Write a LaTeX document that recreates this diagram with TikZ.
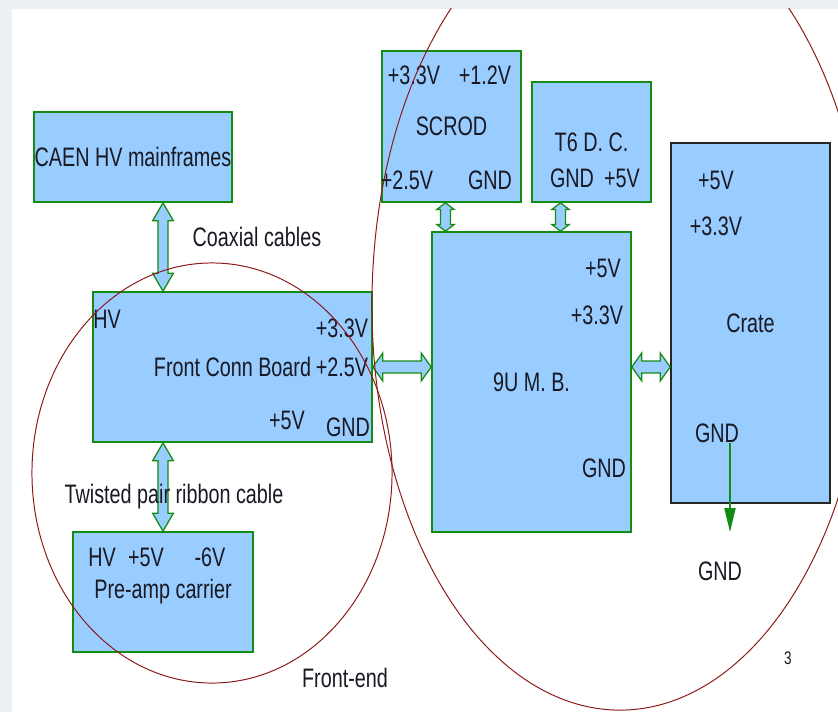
\documentclass[tikz,border=0pt]{standalone}
\usepackage{fontspec}
\setmainfont[FakeStretch=0.74]{Liberation Sans}
\usetikzlibrary{arrows.meta,positioning,calc}
\definecolor{boxblue}{RGB}{153,204,255}
\definecolor{boxgreen}{RGB}{20,140,20}
\definecolor{ringred}{RGB}{140,25,25}
\definecolor{slidegray}{RGB}{236,239,243}
\definecolor{inkblack}{RGB}{25,25,35}
\tikzset{
  board/.style={rectangle, draw=boxgreen, line width=1.1pt, fill=boxblue,
                inner sep=0pt, align=center, text=inkblack},
  crateboard/.style={board, draw=black!85},
  pin/.style={inner sep=0pt, text=inkblack},
  note/.style={inner sep=0pt, text=inkblack},
  biarrow/.style={draw=boxgreen, fill=boxblue, line width=0.9pt, line join=miter},
  gndarrow/.style={-{Triangle[length=0.6cm,width=0.28cm]}, line width=1pt, boxgreen},
  ring/.style={draw=ringred, line width=0.7pt},
}
\newcommand{\bothway}[5]{%
  \draw[biarrow] (#1)
    -- ($(#1)!#5!(#2)!#4!90:(#2)$) -- ($(#1)!#5!(#2)!#3!90:(#2)$)
    -- ($(#2)!#5!(#1)!#3!-90:(#1)$) -- ($(#2)!#5!(#1)!#4!-90:(#1)$)
    -- (#2)
    -- ($(#2)!#5!(#1)!#4!90:(#1)$) -- ($(#2)!#5!(#1)!#3!90:(#1)$)
    -- ($(#1)!#5!(#2)!#3!-90:(#2)$) -- ($(#1)!#5!(#2)!#4!-90:(#2)$)
    -- cycle;}
\begin{document}
\begin{tikzpicture}[x=0.025cm, y=-0.025cm, font=\fontsize{19}{22}\selectfont]
\useasboundingbox (0,0) rectangle (838,712);
\fill[slidegray] (0,0) rectangle (838,9);
\fill[slidegray] (0,0) rectangle (12,712);

\node[board, minimum width=4.95cm, minimum height=2.25cm] (caen) at (133,157) {CAEN HV mainframes};
\node[board, minimum width=6.975cm, minimum height=3.75cm] (fcb) at (232.5,367) {Front Conn Board};
\node[board, minimum width=4.5cm, minimum height=3cm] (preamp) at (163,592) {Pre-amp carrier};
\node[board, minimum width=3.475cm, minimum height=3.775cm] (scrod) at (451.5,126.5) {SCROD};
\node[board, minimum width=2.975cm, minimum height=3cm] (tsix) at (591.5,142) {T6 D. C.};
\node[board, minimum width=4.975cm, minimum height=7.5cm] (mb) at (531.5,382) {9U M. B.};
\node[crateboard, minimum width=3.975cm, minimum height=9cm] (crate) at (750.5,323) {Crate};

\coordinate (coaxtop) at (caen.south -| preamp.north);
\coordinate (coaxbot) at (fcb.north -| preamp.north);
\coordinate (ribtop) at (fcb.south -| preamp.north);
\coordinate (scrodbot) at ($(scrod.south)+(-6,0)$);
\coordinate (scrodmb) at (scrodbot |- mb.north);
\coordinate (tsixbot) at ($(tsix.south)+(-31,0)$);
\coordinate (tsixmb) at (tsixbot |- mb.north);
\coordinate (mbleft) at (fcb.east -| mb.west);
\coordinate (mbright) at (fcb.east -| mb.east);
\coordinate (crateleft) at (fcb.east -| crate.west);

\bothway{coaxtop}{coaxbot}{0.125cm}{0.26cm}{0.45cm}
\bothway{ribtop}{preamp.north}{0.125cm}{0.26cm}{0.45cm}
\bothway{scrodbot}{scrodmb}{0.125cm}{0.22cm}{0.17cm}
\bothway{tsixbot}{tsixmb}{0.125cm}{0.22cm}{0.17cm}
\bothway{fcb.east}{mbleft}{0.15cm}{0.35cm}{0.25cm}
\bothway{mbright}{crateleft}{0.15cm}{0.35cm}{0.25cm}

\node[note] (coax) at (257,237) {Coaxial cables};
\node[note] (twisted) at (174,497) {Twisted pair ribbon cable};
\node[note] (frontend) at (345,678) {Front-end};

\node[pin] (fcbhv) at (107,319) {HV};
\node[pin] (fcbthree) at (342,328) {+3.3V};
\node[pin] (fcbtwo) at (342,367) {+2.5V};
\node[pin] (fcbfive) at (287,420) {+5V};
\node[pin] (fcbgnd) at (348,427) {GND};

\node[pin] (pahv) at (102,557) {HV};
\node[pin] (pafive) at (146,557) {+5V};
\node[pin] (pasix) at (210,557) {-6V};

\node[pin] (scthree) at (414,75) {+3.3V};
\node[pin] (scone) at (485,75) {+1.2V};
\node[pin] (sctwo) at (407,180) {+2.5V};
\node[pin] (scgnd) at (490,180) {GND};

\node[pin] (tsgnd) at (572,178) {GND};
\node[pin] (tsfive) at (622,178) {+5V};

\node[pin] (mbfive) at (603,268) {+5V};
\node[pin] (mbthree) at (597,315) {+3.3V};
\node[pin] (mbgnd) at (604,468) {GND};

\node[pin] (crfive) at (716,180) {+5V};
\node[pin] (crthree) at (716,226) {+3.3V};
\node[pin] (crgnd) at (717,433) {GND};

\coordinate (gndtip) at (730,532);
\draw[gndarrow] (crgnd.south -| gndtip) -- (gndtip);
\node[note] (earth) at (720,571) {GND};

\node[note, font=\fontsize{13}{15}\selectfont] (page) at (788,658) {3};

\draw[ring] (212,473) ellipse [x radius=4.5cm, y radius=5.25cm];
\begin{scope}
\clip (0,8) rectangle (838,712);
\draw[ring] (620,305) ellipse [x radius=6.2cm, y radius=10.125cm];
\end{scope}
\end{tikzpicture}
\end{document}
